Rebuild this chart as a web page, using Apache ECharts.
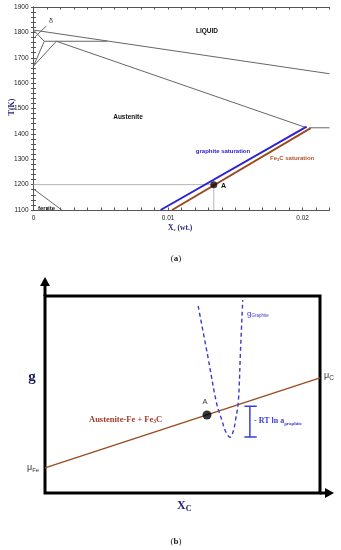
<!DOCTYPE html>
<html><head><meta charset="utf-8">
<script src="https://cdn.jsdelivr.net/npm/echarts@6/dist/echarts.min.js"></script>
<style>html,body{margin:0;padding:0;background:#fff}#c{width:341px;height:550px}</style>
</head><body><div id="c"></div><script>
// ---------- Panel (a): Fe-C phase diagram (X_C wt. fraction, T in K) ----------
const xTickLabels = [0, 0.01, 0.02];
const yTickLabels = [1100, 1200, 1300, 1400, 1500, 1600, 1700, 1800, 1900];
const liquidus = [[0, 1809], [0.022, 1637]];
const deltaLiquidus = [[0, 1809], [0.0008, 1765]];
const deltaGammaLow = [[0, 1667], [0.0008, 1765]];
const deltaGammaHigh = [[0, 1667], [0.0017, 1765]];
const peritectic = [[0.0008, 1765], [0.0055, 1765]];
const austeniteSolidus = [[0.0017, 1765], [0.0203, 1424]];
const eutectic = [[0.0205, 1424], [0.022, 1424]];
const deltaPointer = [[0.00013, 1783], [0.00095, 1825]];
const ferriteBoundary = [[0, 1183], [0.0021, 1100]];
const graphiteSaturation = [[0.00945, 1100], [0.0203, 1429]];
const fe3cSaturation = [[0.0103, 1100], [0.0206, 1423]];
const pointA = [0.0134, 1200];
const guideH = [[0, 1200], [0.0134, 1200]];
const guideV = [[0.0134, 1200], [0.0134, 1100]];

// ---------- Panel (b): schematic Gibbs energy (arbitrary units 0..1) ----------
const tangentLine = [[0, 0.127], [1, 0.584]];
const graphiteCurve = [[0.557, 0.949], [0.591, 0.701], [0.624, 0.455], [0.643, 0.371], [0.656, 0.315],
  [0.673, 0.283], [0.685, 0.315], [0.693, 0.371], [0.703, 0.463], [0.711, 0.726], [0.719, 0.980]];
const pointAb = [0.589, 0.396];
const bracketStem = [[0.745, 0.44], [0.745, 0.284]];
const bracketTop = [[0.725, 0.44], [0.77, 0.44]];
const bracketBottom = [[0.725, 0.284], [0.77, 0.284]];

const chart = echarts.init(document.getElementById('c'), null, {renderer: 'canvas'});
const GREY = '#666';
const SANS = '"Liberation Sans", Arial, sans-serif';
const SERIF = '"Liberation Serif", "Times New Roman", serif';

function seg(data, color, width, gi, extra) {
  return Object.assign({
    type: 'line', data: data, xAxisIndex: gi, yAxisIndex: gi, symbol: 'none',
    lineStyle: {color: color, width: width}, silent: true, z: 3
  }, extra || {});
}

const axA = {
  axisLine: {lineStyle: {color: '#555', width: 1}},
  axisTick: {inside: true, length: 2.5, lineStyle: {color: '#555', width: 1}},
  splitLine: {show: false}
};

const option = {
  animation: false,
  backgroundColor: '#fff',
  grid: [
    {left: 33.5, top: 7, width: 296, height: 203},
    {left: 45, top: 296, width: 275, height: 197, show: true, borderColor: '#000', borderWidth: 3, backgroundColor: 'transparent'}
  ],
  xAxis: [
    Object.assign({type: 'value', gridIndex: 0, min: 0, max: 0.022, interval: 0.001, position: 'bottom',
      axisLabel: {fontSize: 6.5, color: '#222', fontFamily: SANS, margin: 5,
        formatter: v => xTickLabels.some(t => Math.abs(t - v) < 1e-7) ? (v === 0 ? '0' : v.toFixed(2)) : ''}}, axA),
    {type: 'value', gridIndex: 1, min: 0, max: 1, show: false},
    Object.assign({type: 'value', gridIndex: 0, min: 0, max: 0.022, interval: 0.001, position: 'top',
      axisLabel: {show: false}}, axA)
  ],
  yAxis: [
    Object.assign({type: 'value', gridIndex: 0, min: 1100, max: 1900, interval: 20, position: 'left',
      axisLabel: {fontSize: 6.5, color: '#222', fontFamily: SANS, margin: 5,
        formatter: v => yTickLabels.indexOf(v) >= 0 ? String(v) : ''}}, axA),
    {type: 'value', gridIndex: 1, min: 0, max: 1, show: false},
    Object.assign({type: 'value', gridIndex: 0, min: 1100, max: 1900, interval: 20, position: 'right',
      axisLabel: {show: false}}, axA)
  ],
  series: [
    seg(guideH, '#b5b5b5', 1, 0),
    seg(guideV, '#b5b5b5', 1, 0),
    seg(liquidus, GREY, 1, 0),
    seg(deltaLiquidus, GREY, 1, 0),
    seg(deltaGammaLow, GREY, 1, 0),
    seg(deltaGammaHigh, GREY, 1, 0),
    seg(peritectic, GREY, 1, 0),
    seg(austeniteSolidus, GREY, 1, 0),
    seg(eutectic, GREY, 1, 0),
    seg(deltaPointer, GREY, 1, 0),
    seg(ferriteBoundary, GREY, 1, 0),
    seg(fe3cSaturation, '#9a4a1e', 2, 0, {z: 4}),
    seg(graphiteSaturation, '#2a20d6', 2, 0, {z: 5}),
    {type: 'scatter', xAxisIndex: 0, yAxisIndex: 0, data: [pointA], symbolSize: 7,
      itemStyle: {color: '#150505'}, z: 6, silent: true},
    // panel b
    seg(tangentLine, '#9a4a1e', 1.3, 1),
    seg(graphiteCurve, '#3a3ad0', 1.4, 1, {smooth: 0.35, lineStyle: {color: '#3a3ad0', width: 1.4, type: [4, 3]}}),
    seg(bracketStem, '#3c3cd8', 1.5, 1),
    seg(bracketTop, '#3c3cd8', 1.5, 1),
    seg(bracketBottom, '#3c3cd8', 1.5, 1),
    {type: 'scatter', xAxisIndex: 1, yAxisIndex: 1, data: [pointAb], symbolSize: 9,
      itemStyle: {color: '#000'}, z: 6, silent: true}
  ],
  graphic: [
    // panel (a) texts
    {type: 'text', x: 207, y: 31, style: {text: 'LIQUID', font: 'bold 6.5px ' + SANS, fill: '#111', align: 'center', verticalAlign: 'middle'}},
    {type: 'text', x: 128, y: 117, style: {text: 'Austenite', font: 'bold 6.5px ' + SANS, fill: '#111', align: 'center', verticalAlign: 'middle'}},
    {type: 'text', x: 223, y: 151, style: {text: 'graphite saturation', font: 'bold 6px ' + SANS, fill: '#2a20d6', align: 'center', verticalAlign: 'middle'}},
    {type: 'text', x: 270, y: 158, style: {text: '{m|Fe}{s|3}{m|C saturation}', align: 'left', verticalAlign: 'middle',
      rich: {m: {font: 'bold 6px ' + SANS, fill: '#b5502a', lineHeight: 8}, s: {font: 'bold 4px ' + SANS, fill: '#b5502a', verticalAlign: 'bottom', lineHeight: 8}}}},
    {type: 'text', x: 38, y: 208.5, style: {text: 'ferrite', font: 'bold 6px ' + SANS, fill: '#111', align: 'left', verticalAlign: 'middle'}},
    {type: 'text', x: 51, y: 21, style: {text: 'δ', font: '7px ' + SANS, fill: '#333', align: 'center', verticalAlign: 'middle'}},
    {type: 'text', x: 221, y: 186.5, style: {text: 'A', font: 'bold 7px ' + SANS, fill: '#111', align: 'left', verticalAlign: 'middle'}},
    {type: 'text', x: 11.5, y: 107, rotation: Math.PI / 2, style: {text: 'T(K)', font: 'bold 8px ' + SERIF, fill: '#23237a', align: 'center', verticalAlign: 'middle'}},
    {type: 'text', x: 168, y: 228, style: {text: '{m|X}{s|c}{m| (wt.)}', align: 'left', verticalAlign: 'middle',
      rich: {m: {font: 'bold 7.5px ' + SERIF, fill: '#23237a', lineHeight: 9}, s: {font: 'bold 5px ' + SERIF, fill: '#23237a', verticalAlign: 'bottom', lineHeight: 9}}}},
    {type: 'text', x: 176, y: 259, style: {text: '{n|(}{b|a}{n|)}', align: 'center', verticalAlign: 'middle',
      rich: {n: {font: '9px ' + SERIF, fill: '#222'}, b: {font: 'bold 9px ' + SERIF, fill: '#222'}}}},
    // panel (b) arrows
    {type: 'line', shape: {x1: 45, y1: 296, x2: 45, y2: 284}, style: {stroke: '#000', lineWidth: 3}},
    {type: 'polygon', shape: {points: [[40, 286], [50, 286], [45, 277]]}, style: {fill: '#000'}},
    {type: 'line', shape: {x1: 320, y1: 493, x2: 327, y2: 493}, style: {stroke: '#000', lineWidth: 3}},
    {type: 'polygon', shape: {points: [[325, 488], [325, 498], [334, 493]]}, style: {fill: '#000'}},
    // panel (b) texts
    {type: 'text', x: 32, y: 377, style: {text: 'g', font: 'bold 15px ' + SERIF, fill: '#1d1d55', align: 'center', verticalAlign: 'middle'}},
    {type: 'text', x: 177, y: 506, style: {text: '{m|X}{s|C}', align: 'left', verticalAlign: 'middle',
      rich: {m: {font: 'bold 12px ' + SERIF, fill: '#22227a', lineHeight: 14}, s: {font: 'bold 8px ' + SERIF, fill: '#22227a', verticalAlign: 'bottom', lineHeight: 14}}}},
    {type: 'text', x: 27, y: 468, style: {text: '{m|μ}{s|Fe}', align: 'left', verticalAlign: 'middle',
      rich: {m: {font: '9px ' + SANS, fill: '#333', lineHeight: 11}, s: {font: '6px ' + SANS, fill: '#333', verticalAlign: 'bottom', lineHeight: 11}}}},
    {type: 'text', x: 324, y: 376, style: {text: '{m|μ}{s|C}', align: 'left', verticalAlign: 'middle',
      rich: {m: {font: '9px ' + SANS, fill: '#333', lineHeight: 11}, s: {font: '6.5px ' + SANS, fill: '#333', verticalAlign: 'bottom', lineHeight: 11}}}},
    {type: 'text', x: 205, y: 402, style: {text: 'A', font: '7.5px ' + SANS, fill: '#333', align: 'center', verticalAlign: 'middle'}},
    {type: 'text', x: 89, y: 420, style: {text: '{m|Austenite-Fe + Fe}{s|3}{m|C}', align: 'left', verticalAlign: 'middle',
      rich: {m: {font: 'bold 8.5px ' + SERIF, fill: '#a83a2a', lineHeight: 10}, s: {font: 'bold 5.5px ' + SERIF, fill: '#a83a2a', verticalAlign: 'bottom', lineHeight: 10}}}},
    {type: 'text', x: 247, y: 314, style: {text: '{m|g}{s|Graphite}', align: 'left', verticalAlign: 'middle',
      rich: {m: {font: '8px ' + SANS, fill: '#3a3ad0', lineHeight: 9}, s: {font: '4.5px ' + SANS, fill: '#3a3ad0', verticalAlign: 'bottom', lineHeight: 9}}}},
    {type: 'text', x: 254, y: 421, style: {text: '{m|- RT ln a}{s|graphite}', align: 'left', verticalAlign: 'middle',
      rich: {m: {font: 'bold 8px ' + SERIF, fill: '#3c3cd8', lineHeight: 10}, s: {font: 'bold 5px ' + SERIF, fill: '#3c3cd8', verticalAlign: 'bottom', lineHeight: 10}}}},
    {type: 'text', x: 176, y: 542, style: {text: '{n|(}{b|b}{n|)}', align: 'center', verticalAlign: 'middle',
      rich: {n: {font: '9px ' + SERIF, fill: '#222'}, b: {font: 'bold 9px ' + SERIF, fill: '#222'}}}}
  ]
};
chart.setOption(option);
</script></body></html>
